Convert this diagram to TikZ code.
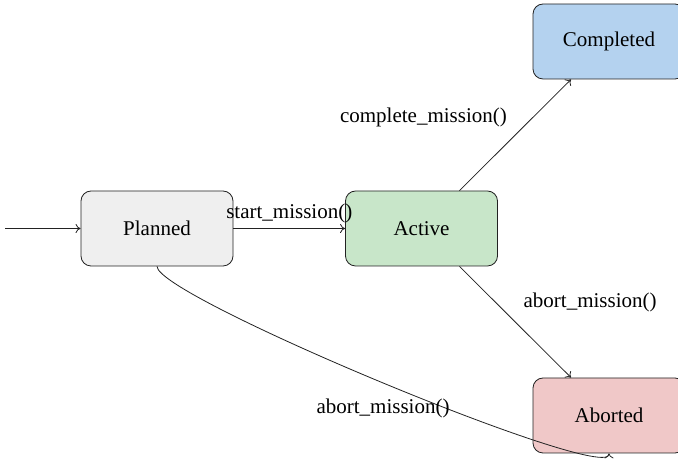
\documentclass[tikz,border=0pt]{standalone}
\usepackage{fontspec}
\setmainfont{Liberation Serif}
\usetikzlibrary{arrows.meta}
\definecolor{plannedfill}{HTML}{EFEFEF}
\definecolor{activefill}{HTML}{C8E6C9}
\definecolor{completedfill}{HTML}{B4D2EF}
\definecolor{abortedfill}{HTML}{F0C8C8}
\definecolor{edgegray}{HTML}{222222}
\tikzset{
  statebox/.style={draw=edgegray, line width=0.8pt, rounded corners=10pt,
    minimum width=152pt, minimum height=75pt, inner sep=0pt,
    font=\fontsize{21}{25}\selectfont},
  trans/.style={draw=edgegray, line width=0.8pt, -{To[length=5pt,width=9pt]}},
  tlabel/.style={font=\fontsize{21}{25}\selectfont, inner sep=8pt}
}
\begin{document}
\begin{tikzpicture}[x=1pt,y=1pt]
\clip (0,0) rectangle (678,460);
\node[statebox, fill=plannedfill] (planned) at (157,231.5) {Planned};
\node[statebox, fill=activefill] (active) at (421.5,231.5) {Active};
\node[statebox, fill=completedfill] (completed) at (609,418.5) {Completed};
\node[statebox, fill=abortedfill] (aborted) at (609,44.5) {Aborted};
\coordinate (start) at (5,231.5);
\draw[trans] (start) -- (planned);
\draw[trans] (planned) -- node[tlabel, above, yshift=-3pt] (l1) {start\_mission()} (active);
\draw[trans] (active) -- node[tlabel, above left] (l2) {complete\_mission()} (completed);
\draw[trans] (active) -- node[tlabel, above right, yshift=2pt] (l3) {abort\_mission()} (aborted);
\draw[trans] (planned.south) to[out=-90, in=-90, looseness=0.16]
  node[tlabel, below, yshift=-8pt] (l4) {abort\_mission()} (aborted.south);
\end{tikzpicture}
\end{document}
